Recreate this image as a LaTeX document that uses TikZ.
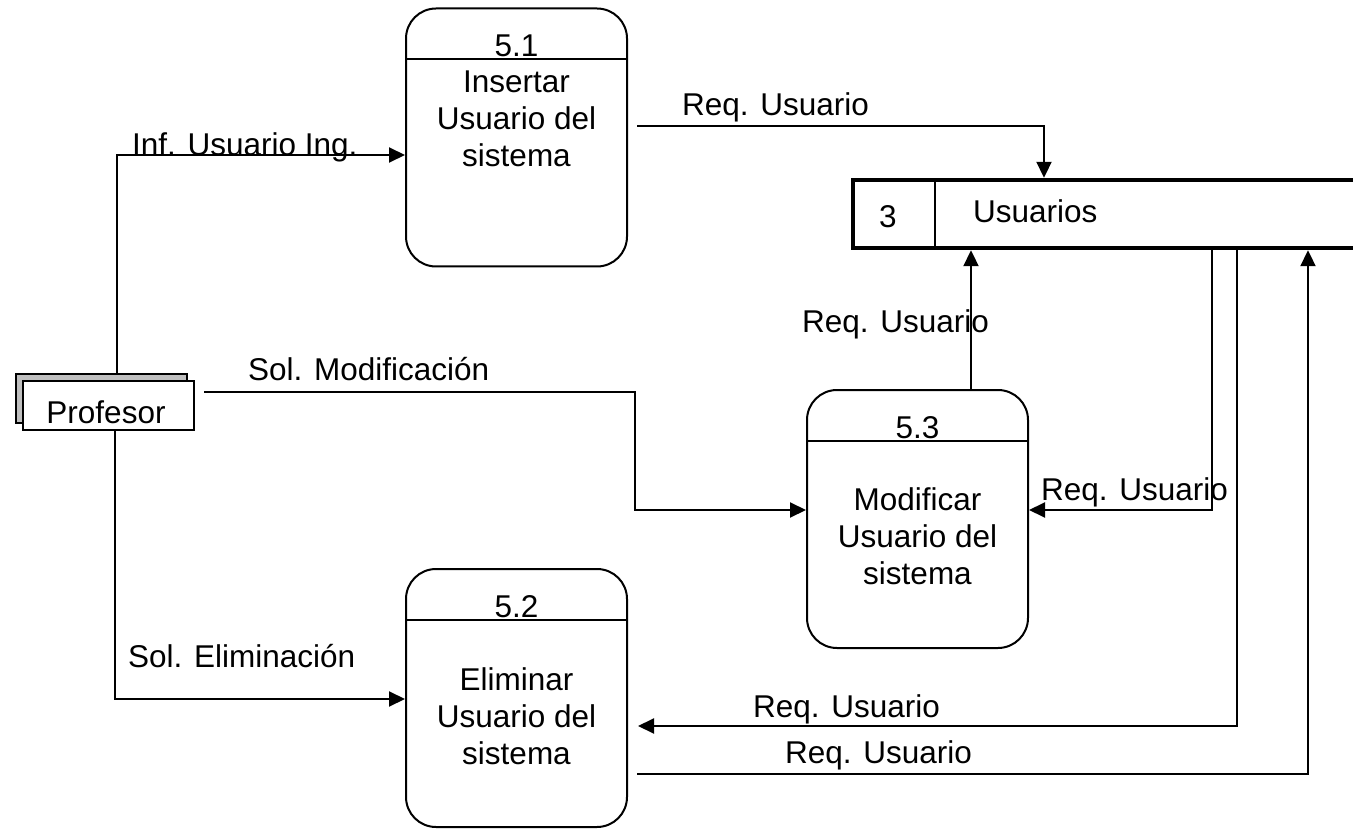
\documentclass[tikz,border=0pt]{standalone}
\usepackage{fontspec}
\setmainfont{Liberation Sans}
\usetikzlibrary{arrows.meta,calc}
\begin{document}
\begin{tikzpicture}[x=1pt,y=-1pt,
  every node/.style={font=\fontsize{31.5}{37}\selectfont, inner sep=0pt},
  proc/.style={draw, line width=2pt, rounded corners=30pt, minimum width=221pt, minimum height=258pt},
  flow/.style={line width=2pt, -{Triangle[length=16pt,width=15pt]}},
  lbl/.style={anchor=base west},
  ctext/.style={anchor=base}
]
\useasboundingbox (0,0) rectangle (1353,829);

% processes
\node[proc] (p51) at (516.5,137.5) {};
\node[proc] (p53) at (917.5,519) {};
\node[proc] (p52) at (516.5,698) {};
\draw[line width=2pt] ([yshift=-52pt]p51.north west) -- ([yshift=-52pt]p51.north east);
\draw[line width=2pt] ([yshift=-52pt]p53.north west) -- ([yshift=-52pt]p53.north east);
\draw[line width=2pt] ([yshift=-52pt]p52.north west) -- ([yshift=-52pt]p52.north east);

\node[ctext] (n51) at (516.5,57) {5.1};
\node[ctext] (t51a) at (516.5,93) {Insertar};
\node[ctext] (t51b) at (516.5,130) {Usuario del};
\node[ctext] (t51c) at (516.5,167) {sistema};

\node[ctext] (n53) at (917.5,438) {5.3};
\node[ctext] (t53a) at (917.5,510) {Modificar};
\node[ctext] (t53b) at (917.5,547) {Usuario del};
\node[ctext] (t53c) at (917.5,584) {sistema};

\node[ctext] (n52) at (516.5,617) {5.2};
\node[ctext] (t52a) at (516.5,690) {Eliminar};
\node[ctext] (t52b) at (516.5,727) {Usuario del};
\node[ctext] (t52c) at (516.5,764) {sistema};

% data store
\node[minimum width=500pt, minimum height=68pt] (st) at (1103,214) {};
\draw[line width=4pt] (st.north east) -- (st.north west) -- (st.south west) -- (st.south east);
\draw[line width=2pt] ([xshift=82pt]st.north west) -- ([xshift=82pt]st.south west);
\node[ctext] (s3) at (888,228) {3};
\node[lbl] (sname) at (973,223) {Usuarios};

% external entity
\node[draw, line width=2pt, fill=black!25, minimum width=171pt, minimum height=49pt] (profb) at (101.5,398.5) {};
\node[draw, line width=2pt, fill=white, minimum width=171pt, minimum height=49pt] (prof) at (108.5,405.5) {};
\node[ctext] (proft) at (106,423) {Profesor};

% flows
\coordinate (c1) at (117,155);
\draw[flow] (c1 |- profb.north) -- (c1) -- (c1 -| p51.west);
\node[lbl] (l1) at (132,156) {Inf. Usuario Ing.};

\coordinate (c2) at (635,392);
\coordinate (c2b) at (635,510);
\draw[flow] ($(c2 -| prof.east)+(9,0)$) -- (c2) -- (c2b) -- (c2b -| p53.west);
\node[lbl] (l2) at (248,380) {Sol. Modificación};

\coordinate (c3) at (115,699);
\draw[flow] (c3 |- prof.south) -- (c3) -- (c3 -| p52.west);
\node[lbl] (l3) at (128,667) {Sol. Eliminación};

\coordinate (c4) at (1044,126);
\draw[flow] ($(c4 -| p51.east)+(9,0)$) -- (c4) -- ($(c4 |- st.north)+(0,-2)$);
\node[lbl] (l4) at (682,116) {Req. Usuario};

\coordinate (c5) at (971,390);
\draw[flow] (c5 |- p53.north) -- ($(c5 |- st.south)+(0,2)$);
\node[lbl] (l5) at (802,332) {Req. Usuario};

\coordinate (c6) at (1212,510);
\draw[flow] ($(c6 |- st.south)+(0,-2)$) -- (c6) -- (c6 -| p53.east);
\node[lbl] (l6) at (1041,500) {Req. Usuario};

\coordinate (c7) at (1237,726);
\draw[flow] ($(c7 |- st.south)+(0,-2)$) -- (c7) -- ($(c7 -| p52.east)+(10,0)$);
\node[lbl] (l7) at (753,717) {Req. Usuario};

\coordinate (c8) at (1308,774);
\draw[flow] ($(c8 -| p52.east)+(9,0)$) -- (c8) -- ($(c8 |- st.south)+(0,2)$);
\node[lbl] (l8) at (785,763) {Req. Usuario};
\end{tikzpicture}
\end{document}
